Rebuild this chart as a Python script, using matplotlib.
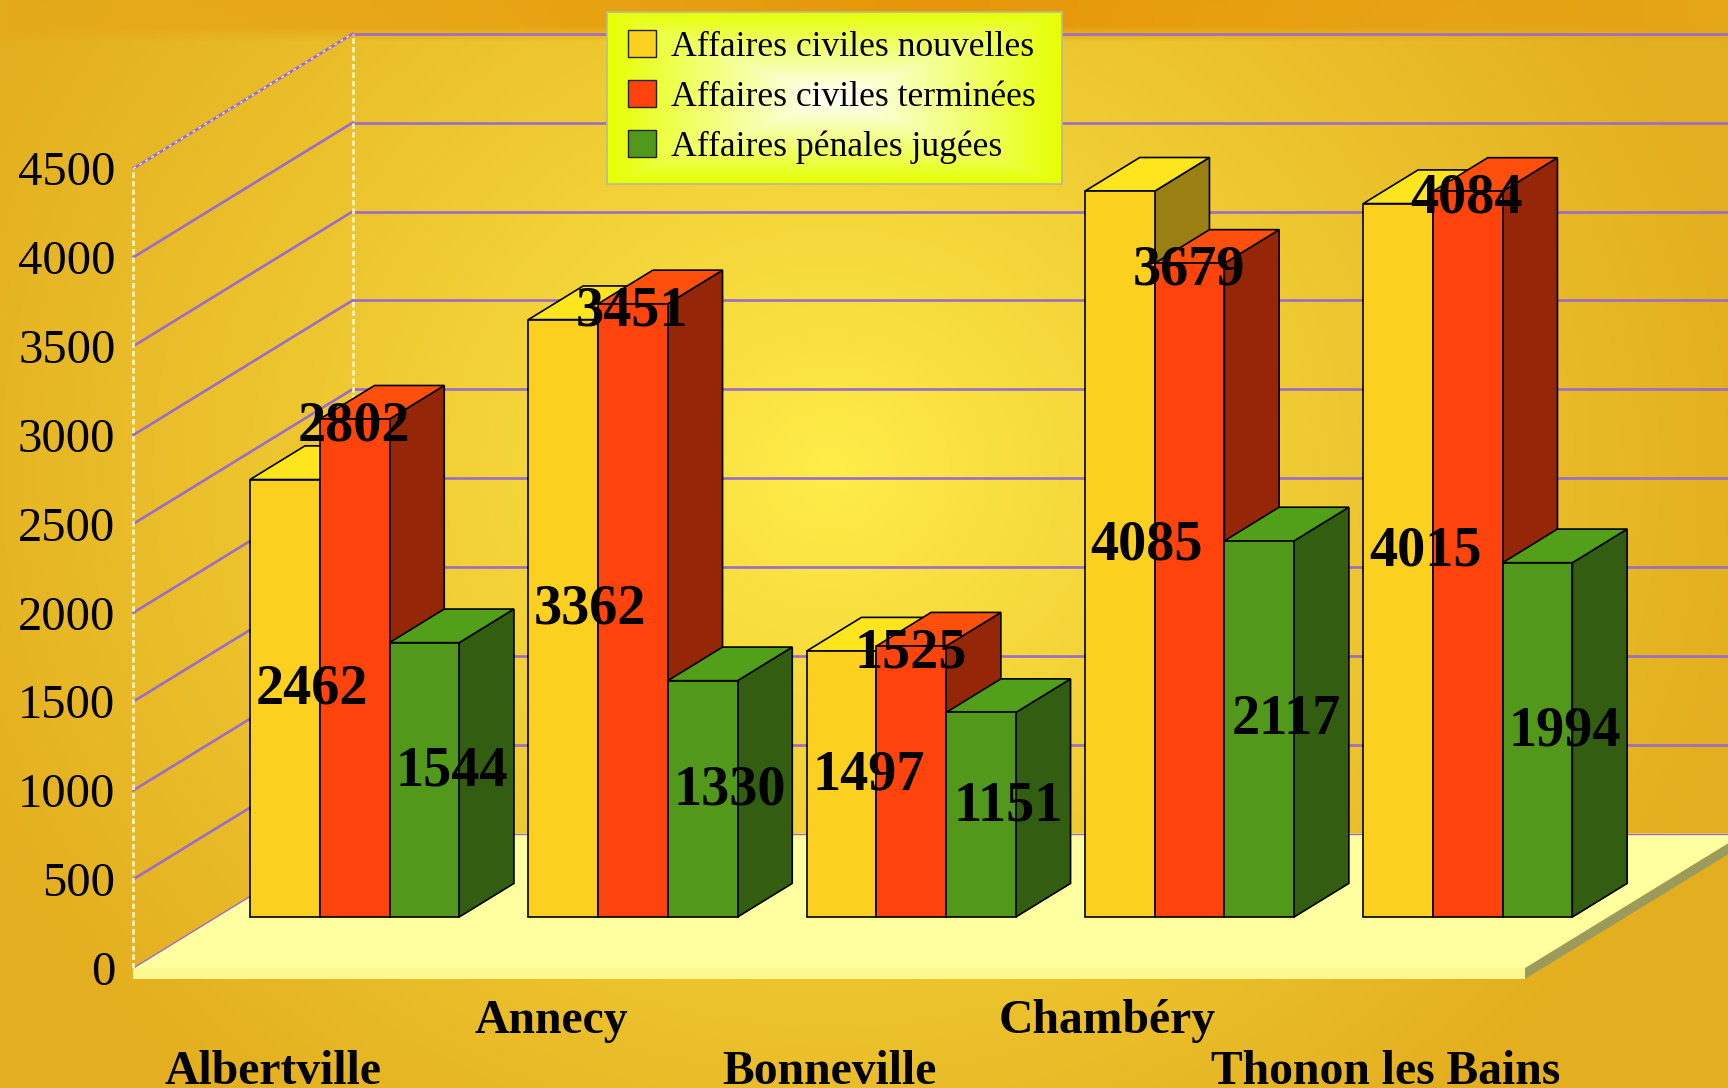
import numpy as np
import matplotlib
matplotlib.use('Agg')
import matplotlib.pyplot as plt
from matplotlib.patches import Polygon, Patch

# data
cities = ['Albertville', 'Annecy', 'Bonneville', 'Chambéry', 'Thonon les Bains']
series_names = ['Affaires civiles nouvelles', 'Affaires civiles terminées', 'Affaires pénales jugées']
nouvelles = [2462, 3362, 1497, 4085, 4015]
terminees = [2802, 3451, 1525, 3679, 4084]
penales = [1544, 1330, 1151, 2117, 1994]
yticks = [0, 500, 1000, 1500, 2000, 2500, 3000, 3500, 4000, 4500]

# style
W, H = 1728, 1088
front_cols = ['#FBD01F', '#FF430D', '#52981A']
top_cols = ['#FFE51E', '#FF4F0D', '#52A01A']
side_cols = ['#9A7F12', '#962608', '#335E12']
SERIF = ['Liberation Serif', 'DejaVu Serif']

# one x unit = one city slot, y unit = case count
PX_X = 278.3
PX_Y = 0.1777
X0 = 133.5
Y0 = 968
DX = 219 / PX_X   # depth shift for the whole floor
DY = 134.5 / PX_Y
BAR_W = 69.7 / PX_X
BAR_GAP = 33.6 / PX_X
D_FRONT = 0.379
D_BAR = 0.25


def depth(x, v, d):
    return (x + d * DX, v + d * DY)


fig = plt.figure(figsize=(W / 100, H / 100), dpi=100)

# page background
ax_bg = fig.add_axes([0, 0, 1, 1], zorder=0)
ax_bg.axis('off')
yy, xx = np.mgrid[0:H, 0:W]
t = np.sqrt(((xx - 830) / 950.0) ** 2 + ((yy - 470) / 850.0) ** 2)
t = np.clip(t, 0, 1)
c_mid = np.array([255, 238, 74]) / 255
c_edge = np.array([227, 174, 31]) / 255
bg = c_mid + (c_edge - c_mid) * t[..., None] ** 0.85
band = np.clip((42 - yy) / 16.0, 0, 1) * np.clip(1 - np.abs(xx - 930) / 1000.0, 0, 1) ** 0.7
c_band = np.array([230, 150, 8]) / 255
bg = bg + (c_band - bg) * band[..., None]
ax_bg.imshow(bg, aspect='auto', extent=(0, W, H, 0))

# main axes over the whole figure
ax = fig.add_axes([0, 0, 1, 1], zorder=1)
ax.patch.set_alpha(0)
ax.axis('off')
ax.set_xlim(-X0 / PX_X, (W - X0) / PX_X)
ax.set_ylim((Y0 - H) / PX_Y, Y0 / PX_Y)

# floor slab
n = len(cities)
slab = 11 / PX_Y
ax.add_patch(Polygon([(n, 0), (n, -slab), depth(n, -slab, 1), depth(n, 0, 1)], fc='#9B9B5B', ec='none', zorder=1))
ax.add_patch(Polygon([(0, 0), (n, 0), (n, -slab), (0, -slab)], fc='#FAF88F', ec='none', zorder=1))
ax.add_patch(Polygon([(0, 0), (n, 0), depth(n, 0, 1), depth(0, 0, 1)], fc='#FFFF9F', ec='none', zorder=1))

# grid lines on side and back wall
for v in yticks:
    bx, by = depth(0, v, 1)
    lw = 1.0 if v == 0 else 1.9
    ax.plot([0, bx], [v, by], color='#9A6CCB', lw=lw, zorder=2)
    ax.plot([bx, n + DX + 1], [by, by], color='#9A6CCB', lw=lw, zorder=2)

# white dashed axis edges
white = dict(color='#FFF8D0', lw=1.8, dashes=(2.2, 1.2), zorder=3)
ax.plot([0, 0], [0, 4500], **white)
bx, by = depth(0, 0, 1)
ax.plot([bx, bx], [by, by + 4500], **white)
bx, by = depth(0, 4500, 1)
ax.plot([0, bx], [4500, by], color='#FFF8D0', lw=1.0, dashes=(2, 3), zorder=3)

# bars, left to right so that later ones cover earlier side faces
all_values = [nouvelles, terminees, penales]
for i in range(n):
    for s in range(3):
        val = all_values[s][i]
        x1 = i + BAR_GAP + s * BAR_W + D_FRONT * DX
        x2 = x1 + BAR_W
        b = D_FRONT * DY
        sx = D_BAR * DX
        sy = D_BAR * DY
        front = [(x1, b), (x2, b), (x2, b + val), (x1, b + val)]
        top = [(x1, b + val), (x2, b + val), (x2 + sx, b + val + sy), (x1 + sx, b + val + sy)]
        side = [(x2, b), (x2 + sx, b + sy), (x2 + sx, b + val + sy), (x2, b + val)]
        for pts, col in [(side, side_cols[s]), (top, top_cols[s]), (front, front_cols[s])]:
            ax.add_patch(Polygon(pts, fc=col, ec='black', lw=1.2, joinstyle='miter', zorder=5))

# value labels go on top of everything
for i in range(n):
    for s in range(3):
        val = all_values[s][i]
        xc = i + BAR_GAP + (s + 0.5) * BAR_W + D_FRONT * DX
        b = D_FRONT * DY
        if s == 1:
            ya = b + val
            off = (-1, -7.5)
        else:
            ya = b + val / 2.0
            off = (27, 8.5)
        ax.annotate(str(val), (xc, ya), xytext=(off[0] * 0.72, off[1] * 0.72), textcoords='offset points',
                    ha='center', va='center', family=SERIF, weight='bold', fontsize=40.5, color='black', zorder=8)

# y labels
for v in yticks:
    ax.annotate(str(v), (0, v), xytext=(-13, -3.6), textcoords='offset points', ha='right', va='center',
                family=SERIF, fontsize=35, color='black', zorder=8)

# city labels, staggered on two rows
for i, name in enumerate(cities):
    row = -583 if i % 2 == 0 else -301
    ax.text(i + 0.5, row, name, ha='center', va='center', family=SERIF, weight='bold', fontsize=34.3, color='black', zorder=8)

# legend box with its own gradient
lx, ly, lw_, lh = 607, 11.5, 455, 172.5
ax_leg = fig.add_axes([lx / W, 1 - (ly + lh) / H, lw_ / W, lh / H], zorder=2)
u = np.abs(np.linspace(-1, 1, 455))
w = np.abs(np.linspace(-1, 1, 172))
uu, ww = np.meshgrid(u, w)
r = np.maximum(uu, ww) ** 1.1
c_in = np.array([255, 255, 250]) / 255
c_out = np.array([230, 255, 0]) / 255
ax_leg.imshow(c_in + (c_out - c_in) * r[..., None], aspect='auto')
ax_leg.set_xticks([])
ax_leg.set_yticks([])
for sp in ax_leg.spines.values():
    sp.set_color('#B8B8A0')
    sp.set_linewidth(1.2)
handles = [Patch(fc=front_cols[k], ec='#222222', lw=1.0, label=series_names[k]) for k in range(3)]
ax_leg.legend(handles=handles, loc='upper left', bbox_to_anchor=(0.008, 0.995), frameon=False,
              prop={'family': SERIF, 'size': 25.7}, handlelength=0.76, handleheight=0.76,
              handletextpad=0.42, labelspacing=0.46, borderpad=0.0, borderaxespad=0.5)

fig.savefig('out.png', dpi=100)
